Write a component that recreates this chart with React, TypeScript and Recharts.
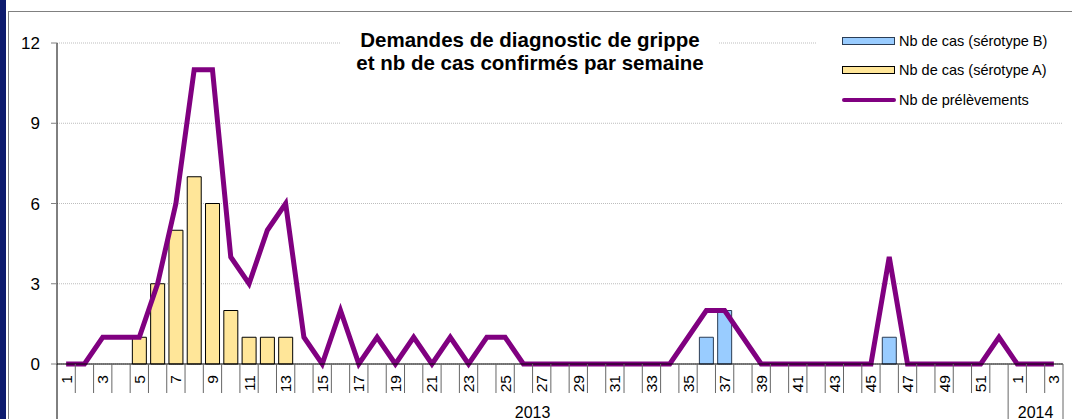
import React from 'react';
import { ComposedChart, Bar, Line, XAxis, YAxis, CartesianGrid } from 'recharts';

// ---- data ----
const weeks2013 = [
  1, 2, 3, 4, 5, 6, 7, 8, 9, 10, 11, 12, 13, 14, 15, 16, 17, 18, 19, 20, 21, 22, 23, 24, 25, 26,
  27, 28, 29, 30, 31, 32, 33, 34, 35, 36, 37, 38, 39, 40, 41, 42, 43, 44, 45, 46, 47, 48, 49, 50, 51, 52,
];
const weeks2014 = [1, 2, 3];

const prelevements = [
  0, 0, 1, 1, 1, 3, 6, 11, 11, 4,
  3, 5, 6, 1, 0, 2, 0, 1, 0, 1,
  0, 1, 0, 1, 1, 0, 0, 0, 0, 0,
  0, 0, 0, 0, 1, 2, 2, 1, 0, 0,
  0, 0, 0, 0, 0, 4, 0, 0, 0, 0,
  0, 1,
  0, 0, 0,
];
const serotypeA = [
  0, 0, 0, 0, 1, 3, 5, 7, 6, 2,
  1, 1, 1, 0, 0, 0, 0, 0, 0, 0,
  0, 0, 0, 0, 0, 0, 0, 0, 0, 0,
  0, 0, 0, 0, 0, 0, 0, 0, 0, 0,
  0, 0, 0, 0, 0, 0, 0, 0, 0, 0,
  0, 0,
  0, 0, 0,
];
const serotypeB = [
  0, 0, 0, 0, 0, 0, 0, 0, 0, 0,
  0, 0, 0, 0, 0, 0, 0, 0, 0, 0,
  0, 0, 0, 0, 0, 0, 0, 0, 0, 0,
  0, 0, 0, 0, 0, 1, 2, 0, 0, 0,
  0, 0, 0, 0, 0, 1, 0, 0, 0, 0,
  0, 0,
  0, 0, 0,
];
const yTicks = [0, 3, 6, 9, 12];
const titleLines = ['Demandes de diagnostic de grippe', 'et nb de cas confirmés par semaine'];
const legendLabels = ['Nb de cas (sérotype B)', 'Nb de cas (sérotype A)', 'Nb de prélèvements'];

const weekList = [
  ...weeks2013.map((w) => ({ year: '2013', week: w })),
  ...weeks2014.map((w) => ({ year: '2014', week: w })),
];
const data = weekList.map((d, i) => ({
  id: `${d.year}-${d.week}`,
  year: d.year,
  week: d.week,
  prel: prelevements[i],
  a: serotypeA[i],
  b: serotypeB[i],
}));

// ---- layout ----
const W = 1072;
const H = 419;
const Y_AXIS_W = 57;
const M_RIGHT = 9;
const M_TOP = 43;
const X_AXIS_H = 55;
const N = data.length;
const BW = (W - Y_AXIS_W - M_RIGHT) / N;
const FONT = "Arial, 'Liberation Sans', sans-serif";

const PURPLE = '#800080';
const YELLOW = '#FFE699';
const BLUE = '#99CCFF';

function groupBounds(i: number) {
  const y = data[i].year;
  let f = i;
  while (f > 0 && data[f - 1].year === y) f--;
  let l = i;
  while (l < N - 1 && data[l + 1].year === y) l++;
  return [f, l];
}

function WeekTick(props: any) {
  const { x, y, index } = props;
  const d = data[index];
  if (!d) return null;
  const left = x - BW / 2;
  const right = x + BW / 2;
  const [f, l] = groupBounds(index);
  const mid = (f + l) / 2;
  const showYear = index === Math.floor(mid);
  const yearX = x + (mid - Math.floor(mid)) * BW;
  const firstOfYear = index === f;
  return (
    <g>
      <line
        x1={left}
        x2={left}
        y1={y}
        y2={firstOfYear ? y + X_AXIS_H : y + 29}
        stroke={index === 0 ? '#000' : '#666'}
        strokeWidth={1}
      />
      {index === N - 1 && (
        <line x1={right} x2={right} y1={y} y2={y + X_AXIS_H} stroke="#666" strokeWidth={1} />
      )}
      {d.week % 2 === 1 && (
        <text
          x={x}
          y={y + 11}
          transform={`rotate(-90 ${x} ${y + 11})`}
          textAnchor="end"
          dominantBaseline="central"
          fontSize={15.5}
          fill="#000"
        >
          {d.week}
        </text>
      )}
      {showYear && (
        <text x={yearX} y={y + 48} textAnchor="middle" dominantBaseline="central" fontSize={16} fill="#000">
          {d.year}
        </text>
      )}
    </g>
  );
}

function LegendRow({ kind, label, top }: { kind: string; label: string; top: number }) {
  let swatch: React.ReactNode;
  if (kind === 'line') {
    swatch = <div style={{ width: 54, height: 4, background: PURPLE, borderRadius: 2 }} />;
  } else {
    swatch = (
      <div
        style={{
          width: 51,
          height: 6,
          background: kind === 'b' ? BLUE : YELLOW,
          border: kind === 'b' ? '1px solid #2b3d55' : '1px solid #000',
        }}
      />
    );
  }
  return (
    <div style={{ position: 'absolute', left: 0, top, height: 20, display: 'flex', alignItems: 'center' }}>
      <div style={{ width: 56, display: 'flex', alignItems: 'center' }}>{swatch}</div>
      <span style={{ fontSize: 14.5, color: '#000', whiteSpace: 'nowrap', marginLeft: 1 }}>{label}</span>
    </div>
  );
}

export default function App() {
  return (
    <div
      style={{
        position: 'absolute',
        left: 0,
        top: 0,
        width: W,
        height: H,
        overflow: 'hidden',
        background: '#fff',
        fontFamily: FONT,
      }}
    >
      <div style={{ position: 'absolute', left: 0, top: 0, width: 6, height: H, background: '#0d1b6e' }} />
      <div
        style={{
          position: 'absolute',
          left: 8,
          top: 11,
          width: W,
          height: H,
          borderLeft: '1.5px solid #808080',
          borderTop: '1.5px solid #808080',
        }}
      />
      <div style={{ position: 'absolute', left: 0, top: 0 }}>
        <ComposedChart
          width={W}
          height={H}
          data={data}
          margin={{ top: M_TOP, right: M_RIGHT, bottom: 0, left: 0 }}
          barCategoryGap="12%"
        >
          <CartesianGrid vertical={false} stroke="#bdbdbd" strokeDasharray="1 1" />
          <XAxis
            dataKey="id"
            interval={0}
            tickLine={false}
            tickSize={0}
            tickMargin={0}
            height={X_AXIS_H}
            axisLine={{ stroke: '#000', strokeWidth: 1 }}
            tick={(p: any) => <WeekTick {...p} />}
          />
          <YAxis
            width={Y_AXIS_W}
            domain={[0, 12]}
            ticks={yTicks}
            interval={0}
            allowDecimals={false}
            tickSize={6}
            tickMargin={11}
            tickLine={{ stroke: '#808080' }}
            axisLine={{ stroke: '#000', strokeWidth: 1 }}
            tick={{ fill: '#000', fontSize: 17 }}
          />
          <Bar dataKey="b" stackId="s" fill={BLUE} stroke="#2b3d55" strokeWidth={1} isAnimationActive={false} />
          <Bar dataKey="a" stackId="s" fill={YELLOW} stroke="#000" strokeWidth={1} isAnimationActive={false} />
          <Line
            type="linear"
            dataKey="prel"
            stroke={PURPLE}
            strokeWidth={5}
            dot={false}
            activeDot={false}
            isAnimationActive={false}
          />
        </ComposedChart>
      </div>
      <div
        style={{
          position: 'absolute',
          left: 341,
          top: 28,
          width: 378,
          background: '#fff',
          textAlign: 'center',
          fontWeight: 'bold',
          fontSize: 20.5,
          lineHeight: '23px',
          color: '#000',
          whiteSpace: 'nowrap',
        }}
      >
        {titleLines.map((t) => (
          <div key={t}>{t}</div>
        ))}
      </div>
      <div style={{ position: 'absolute', left: 817, top: 28, width: 246, height: 86, background: '#fff' }}>
        <div style={{ position: 'absolute', left: 25, top: 0, width: 220, height: 86 }}>
          <LegendRow kind="b" label={legendLabels[0]} top={3} />
          <LegendRow kind="a" label={legendLabels[1]} top={32} />
          <LegendRow kind="line" label={legendLabels[2]} top={62} />
        </div>
      </div>
    </div>
  );
}
